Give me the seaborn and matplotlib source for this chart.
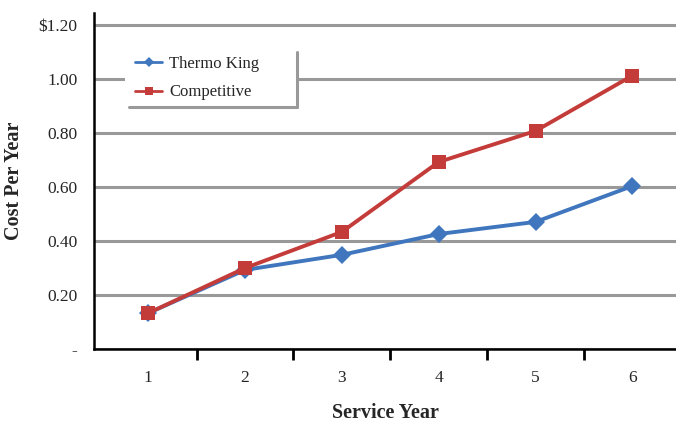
import matplotlib
matplotlib.use('Agg')
import matplotlib.pyplot as plt
from matplotlib.patches import Rectangle
from matplotlib.lines import Line2D
import seaborn as sns
import pandas as pd

# Values
service_years = [1, 2, 3, 4, 5, 6]
thermo_king = [0.133, 0.293, 0.349, 0.426, 0.471, 0.604]
competitive = [0.133, 0.300, 0.434, 0.693, 0.808, 1.013]
y_ticks = [0.0, 0.2, 0.4, 0.6, 0.8, 1.0, 1.2]
y_tick_labels = ['-', '0.20', '0.40', '0.60', '0.80', '1.00', r'\$1.20']

df = pd.DataFrame({
    'year': service_years * 2,
    'cost': thermo_king + competitive,
    'series': ['Thermo King'] * 6 + ['Competitive'] * 6,
})

sns.set_theme(style='white')
plt.rcParams['font.family'] = ['Liberation Serif', 'DejaVu Serif']

fig = plt.figure(figsize=(6.76, 4.24), dpi=100)
ax = fig.add_axes([94 / 676, 75 / 424, 582 / 676, 336 / 424])

colors = {'Thermo King': '#3f76bd', 'Competitive': '#c43c3a'}
sns.lineplot(data=df, x='year', y='cost', hue='series', style='series',
             palette=colors,
             markers={'Thermo King': 'D', 'Competitive': 's'},
             dashes=False, markersize=10, linewidth=2.8,
             markeredgewidth=0, ax=ax, zorder=5)
# diamonds a touch smaller than squares
for ln in ax.lines:
    if ln.get_marker() == 'D':
        ln.set_markersize(9)

ax.set_xlim(1 - 0.56, 6 + 0.45)
ax.set_ylim(0, 1.245)
ax.set_yticks(y_ticks)
ax.set_yticklabels(y_tick_labels, fontsize=12.5)
ax.set_xticks(service_years)
ax.set_xticklabels([str(y) for y in service_years], fontsize=12.5)
ax.set_xticks([y + 0.5 for y in service_years[:-1]], minor=True)
ax.tick_params(axis='x', which='major', bottom=True, length=0, pad=15)
ax.tick_params(axis='x', which='minor', bottom=True, length=8, width=2,
               color='black', direction='out')
ax.tick_params(axis='y', left=False, length=0, pad=12)

ax.yaxis.grid(True, color='#999999', linewidth=2.2)
ax.set_axisbelow(True)
for side in ['top', 'right']:
    ax.spines[side].set_visible(False)
for side in ['left', 'bottom']:
    ax.spines[side].set_color('black')
    ax.spines[side].set_linewidth(1.8)
    ax.spines[side].set_zorder(6)

ax.set_xlabel('Service Year', fontsize=14.5, fontweight='bold', labelpad=12)
ax.set_ylabel('Cost Per Year', fontsize=14.5, fontweight='bold', labelpad=10)

# legend with a white box and grey right/bottom border
ax.add_patch(Rectangle((0.053, 0.72), 0.296, 0.164, transform=ax.transAxes,
                       facecolor='white', edgecolor='none', zorder=3))
ax.add_line(Line2D([0.348, 0.348], [0.72, 0.884], transform=ax.transAxes,
                   color='#999999', linewidth=2.2, zorder=4))
ax.add_line(Line2D([0.06, 0.348], [0.72, 0.72], transform=ax.transAxes,
                   color='#999999', linewidth=2.2, zorder=4))
leg = ax.legend(loc='upper left', bbox_to_anchor=(0.045, 0.917), frameon=False,
                fontsize=12, labelspacing=0.75, handlelength=1.6,
                handletextpad=0.45, markerscale=0.6)
for h in leg.legend_handles:
    h.set_linewidth(2)

fig.savefig('out.png', dpi=100)
